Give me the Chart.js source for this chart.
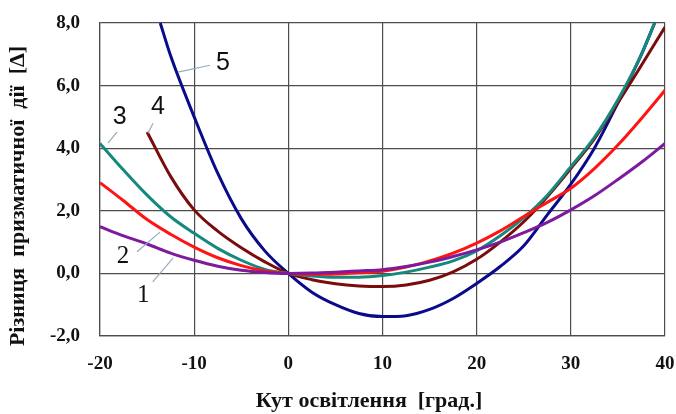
<!DOCTYPE html>
<html>
<head>
<meta charset="utf-8">
<script src="https://cdn.jsdelivr.net/npm/chart.js@4"></script>
<style>
  html, body { margin: 0; padding: 0; background: #ffffff; }
  #wrap { width: 676px; height: 414px; }
</style>
</head>
<body>
<div id="wrap"><canvas id="c" width="676" height="414"></canvas></div>
<script>
// ---- data ----
const xStep = [-20,-17.5,-15,-12.5,-10,-7.5,-5,-2.5,0,2.5,5,7.5,10,12.5,15,17.5,20,22.5,25,27.5,30,32.5,35,37.5,40];
const y1 = [1.49,1.2,0.94,0.65,0.42,0.23,0.1,0.03,0,0.01,0.04,0.08,0.12,0.22,0.36,0.54,0.75,1.0,1.3,1.63,2.03,2.48,3.0,3.55,4.15];
const y2 = [2.9,2.32,1.72,1.25,0.84,0.5,0.25,0.08,0,-0.03,-0.02,0.02,0.07,0.2,0.4,0.65,0.97,1.36,1.82,2.27,2.72,3.35,4.1,4.95,5.85];
const x3 = [-20,-17.5,-15,-12.5,-10,-7.5,-5,-2.5,0,2.5,5,7.5,10,12.5,15,17.5,20,22.5,25,27.5,30,32.5,35,37.5,38.9];
const y3 = [4.15,3.3,2.5,1.81,1.28,0.8,0.42,0.13,0,-0.08,-0.12,-0.12,-0.07,0.04,0.2,0.4,0.72,1.2,1.78,2.5,3.41,4.35,5.55,7.0,8.0];
const x4 = [-15,-12.5,-10,-7.5,-5,-2.5,0,2.5,5,7.5,10,12.5,15,17.5,20,22.5,25,27.5,30,32.5,35,37.5,40];
const y4 = [4.52,3.1,2.03,1.35,0.82,0.37,0,-0.2,-0.33,-0.4,-0.42,-0.37,-0.22,0.05,0.45,1.0,1.65,2.45,3.35,4.3,5.45,6.65,7.87];
const x5 = [-13.6,-12.5,-10,-7.5,-5,-2.5,0,2.5,5,7.5,10,12.5,15,17.5,20,22.5,25,27.5,30,32.5,35,37.5,38.9];
const y5 = [8.0,6.95,5.0,3.2,1.75,0.72,0,-0.6,-1.0,-1.28,-1.38,-1.35,-1.15,-0.8,-0.32,0.22,0.88,1.87,2.85,4.0,5.45,7.0,8.0];
const xTicks = [-20,-10,0,10,20,30,40];
const yTicks = [-2,0,2,4,6,8];
const seriesNames = ['1','2','3','4','5'];
const xTitle = 'Кут освітлення  [град.]';
const yTitle = 'Різниця  призматичної  дії  [Δ]';

function pts(xs, ys) { return xs.map((x, i) => ({ x: x, y: ys[i] })); }

const colors = ['#7d1a9e', '#ff1414', '#16897d', '#7a0c0c', '#0a0a8a'];
const dataSets = [pts(xStep, y1), pts(xStep, y2), pts(x3, y3), pts(x4, y4), pts(x5, y5)];
const drawOrder = [1, 2, 3, 4, 5];

function noOverflow(s) {
  s.paddingLeft = 0; s.paddingRight = 0; s.paddingTop = 0; s.paddingBottom = 0;
}

const labelPlugin = {
  id: 'curveLabels',
  afterDatasetsDraw(chart) {
    const xs = chart.scales.x, ys = chart.scales.y, ctx = chart.ctx;
    const marks = [
      { t: '1', p: [-15.4, -0.69], l: [[-14.4, -0.27], [-12.25, 0.49]], f: 'Liberation Serif' },
      { t: '2', p: [-17.56, 0.53], l: [[-16.07, 0.69], [-13.63, 1.32]], f: 'Liberation Serif' },
      { t: '3', p: [-17.9, 4.99], l: [[-19.15, 4.16], [-18.2, 4.51]], f: 'Liberation Sans' },
      { t: '4', p: [-13.84, 5.31], l: [[-14.37, 4.8], [-14.9, 4.48]], f: 'Liberation Sans' },
      { t: '5', p: [-6.94, 6.71], l: [[-11.72, 6.43], [-8.32, 6.65]], f: 'Liberation Sans' }
    ];
    ctx.save();
    ctx.strokeStyle = '#9aaabb';
    ctx.lineWidth = 1.2;
    marks.forEach(m => {
      ctx.beginPath();
      ctx.moveTo(xs.getPixelForValue(m.l[0][0]), ys.getPixelForValue(m.l[0][1]));
      ctx.lineTo(xs.getPixelForValue(m.l[1][0]), ys.getPixelForValue(m.l[1][1]));
      ctx.stroke();
    });
    ctx.fillStyle = '#111111';
    ctx.textAlign = 'center';
    ctx.textBaseline = 'middle';
    marks.forEach(m => {
      ctx.font = '25px "' + m.f + '"';
      ctx.fillText(m.t, xs.getPixelForValue(m.p[0]), ys.getPixelForValue(m.p[1]));
    });
    // axis titles
    ctx.font = 'bold 22px "Liberation Serif"';
    ctx.fillText(xTitle, 369, 401);
    ctx.translate(18, 196);
    ctx.rotate(-Math.PI / 2);
    ctx.font = 'bold 22px "Liberation Serif"';
    ctx.fillText(yTitle, 0, 0);
    ctx.restore();
  }
};

new Chart(document.getElementById('c'), {
  type: 'line',
  data: {
    datasets: dataSets.map((d, i) => ({
      label: seriesNames[i],
      data: d,
      borderColor: colors[i],
      borderWidth: 3,
      pointRadius: 0,
      fill: false,
      cubicInterpolationMode: 'monotone',
      order: drawOrder[i]
    }))
  },
  options: {
    responsive: false,
    animation: false,
    devicePixelRatio: 1,
    layout: { padding: { left: 0, right: 11, top: 23, bottom: 0 } },
    plugins: { legend: { display: false }, tooltip: { enabled: false } },
    scales: {
      x: {
        type: 'linear',
        min: -20, max: 40,
        afterBuildTicks: s => { s.ticks = xTicks.map(v => ({ value: v })); },
        afterFit: s => { s.height = 78; noOverflow(s); },
        grid: { color: '#4d4d4d', lineWidth: 1.2, drawTicks: false },
        border: { display: true, color: '#4d4d4d', width: 1.2 },
        ticks: {
          padding: 17,
          color: '#111111',
          font: { family: 'Liberation Serif', size: 19, weight: 'bold' },
          callback: v => String(v)
        },
        title: { display: false }
      },
      y: {
        type: 'linear',
        min: -2, max: 8,
        afterBuildTicks: s => { s.ticks = yTicks.map(v => ({ value: v })); },
        afterFit: s => { s.width = 100; noOverflow(s); },
        grid: { color: '#4d4d4d', lineWidth: 1.2, drawTicks: false },
        border: { display: true, color: '#4d4d4d', width: 1.2 },
        ticks: {
          padding: 20,
          color: '#111111',
          font: { family: 'Liberation Serif', size: 19, weight: 'bold' },
          callback: v => v.toFixed(1).replace('.', ',')
        },
        title: { display: false }
      }
    }
  },
  plugins: [labelPlugin]
});
</script>
</body>
</html>
